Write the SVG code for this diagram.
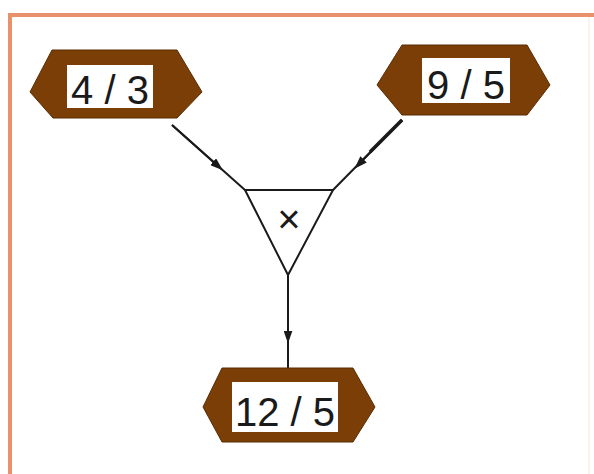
<svg xmlns="http://www.w3.org/2000/svg" width="594" height="474" viewBox="0 0 594 474">
<style>
.hex{fill:#7a3e06;stroke:#5a2c02;stroke-width:1}
.box{fill:#ffffff}
.lbl{font-family:"Liberation Sans","DejaVu Sans",sans-serif;font-size:40px;fill:#1a1a1a;text-anchor:middle}
.edge{stroke:#1a1a1a;stroke-width:2;fill:none}
</style>
<defs>
<marker id="arr" viewBox="0 0 10 10" refX="5" refY="5" markerWidth="13" markerHeight="9" orient="auto" markerUnits="userSpaceOnUse" preserveAspectRatio="none">
<path d="M0,0 L10,5 L0,10 z" fill="#1a1a1a"/>
</marker>
</defs>
<rect width="594" height="474" fill="#ffffff"/>
<g id="frame">
<line x1="10" y1="15" x2="594" y2="15" stroke="#e8916a" stroke-width="4"/>
<line x1="10" y1="13" x2="10" y2="474" stroke="#e8916a" stroke-width="4"/>
<line x1="589" y1="17" x2="589" y2="474" stroke="#fbe6d8" stroke-width="1"/>
</g>
<g id="connectors">
<path class="edge" d="M172,125 L245,190"/>
<path class="edge" d="M172,125 L218,166" marker-end="url(#arr)"/>
<path class="edge" d="M402,120 L333,190"/>
<path d="M402,120 L370,152" stroke="#1a1a1a" stroke-width="3.5"/>
<path class="edge" d="M402,120 L359,164" marker-end="url(#arr)"/>
<path class="edge" d="M288,275 L288,368"/>
<path class="edge" d="M288,275 L288,337" marker-end="url(#arr)"/>
</g>
<g id="n-left">
<polygon class="hex" points="52,50 177,50 202,92 177,118 53,118 30,92"/>
<rect class="box" x="67" y="65" width="86" height="43"/>
<text class="lbl" x="110" y="104">4 / 3</text>
</g>
<g id="n-right">
<polygon class="hex" points="402,45 527,45 550,85 527,115 402,115 377,85"/>
<rect class="box" x="422" y="58" width="88" height="45"/>
<text class="lbl" x="466" y="99">9 / 5</text>
</g>
<g id="n-op">
<polygon points="245,190 333,190 288,275" fill="#ffffff" stroke="#1a1a1a" stroke-width="2"/>
<text x="289" y="233" font-family="Liberation Sans, DejaVu Sans, sans-serif" font-size="40" text-anchor="middle" fill="#1a1a1a">×</text>
</g>
<g id="n-bottom">
<polygon class="hex" points="222,368 353,368 375,407 353,442 222,442 203,407"/>
<rect class="box" x="232" y="382" width="106" height="50"/>
<text class="lbl" x="285" y="426">12 / 5</text>
</g>
</svg>
